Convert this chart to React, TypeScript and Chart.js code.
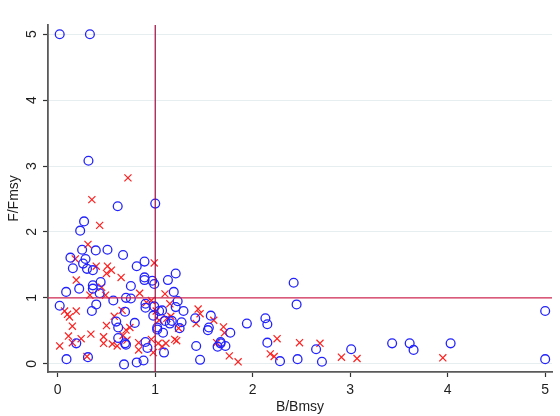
import React, { useEffect, useRef } from "react";
import { Chart, registerables } from "chart.js";

Chart.register(...registerables);

const blueX = [0.02, 0.33, 0.315, 0.615, 1.0, 0.27, 0.23, 0.25, 0.39, 0.51, 0.13, 0.285, 0.155, 0.26, 0.30, 0.36, 0.67, 0.81, 0.89, 0.89, 0.89, 0.97, 0.99, 1.21, 1.13, 0.36, 0.36, 0.44, 0.43, 0.086, 0.22, 0.75, 1.19, 0.57, 0.70, 0.75, 1.23, 0.02, 0.395, 0.35, 0.69, 0.90, 0.90, 0.99, 0.98, 1.04, 1.07, 1.21, 1.29, 0.60, 0.62, 0.79, 1.10, 1.15, 1.17, 1.27, 1.02, 1.02, 1.25, 1.08, 0.62, 0.69, 0.70, 0.90, 0.92, 1.09, 0.19, 0.31, 0.09, 0.68, 0.81, 0.88, 1.41, 1.42, 1.46, 1.54, 1.55, 1.57, 1.64, 1.67, 1.67, 1.72, 1.77, 1.94, 2.13, 2.15, 2.15, 2.28, 2.42, 2.45, 2.46, 2.65, 2.71, 3.01, 3.43, 3.61, 3.65, 4.03, 5.0, 5.0];
const blueY = [5.0, 5.0, 3.08, 2.39, 2.43, 2.16, 2.02, 1.73, 1.72, 1.73, 1.61, 1.59, 1.45, 1.52, 1.44, 1.42, 1.65, 1.48, 1.55, 1.31, 1.27, 1.26, 1.21, 1.37, 1.27, 1.19, 1.14, 1.24, 1.07, 1.09, 1.14, 1.18, 1.09, 0.96, 1.0, 0.99, 0.95, 0.88, 0.90, 0.80, 0.79, 0.91, 0.85, 0.87, 0.73, 0.80, 0.81, 0.86, 0.80, 0.64, 0.55, 0.62, 0.65, 0.61, 0.65, 0.63, 0.55, 0.52, 0.54, 0.47, 0.39, 0.31, 0.29, 0.33, 0.24, 0.17, 0.31, 0.10, 0.07, -0.01, 0.02, 0.05, 0.69, 0.27, 0.06, 0.51, 0.55, 0.73, 0.26, 0.33, 0.31, 0.27, 0.47, 0.61, 0.69, 0.60, 0.32, 0.04, 1.23, 0.90, 0.07, 0.22, 0.03, 0.22, 0.31, 0.31, 0.21, 0.31, 0.80, 0.07];

const redX = [0.72, 0.35, 0.43, 0.31, 0.18, 0.395, 0.51, 0.55, 0.50, 0.65, 0.99, 0.19, 0.45, 0.33, 0.49, 0.84, 1.10, 1.15, 0.96, 0.91, 0.07, 0.10, 0.19, 0.12, 0.15, 0.11, 0.15, 0.24, 0.34, 0.02, 0.30, 0.50, 0.58, 0.66, 0.70, 0.67, 0.74, 0.47, 0.47, 0.56, 0.61, 0.71, 0.83, 0.83, 0.96, 0.98, 1.03, 1.04, 1.01, 1.12, 1.16, 1.11, 1.07, 1.20, 1.22, 1.24, 1.44, 1.46, 1.42, 1.60, 1.70, 1.71, 1.76, 1.85, 1.63, 2.18, 2.22, 2.25, 2.48, 2.69, 2.91, 3.07, 3.95];
const redY = [2.82, 2.49, 2.10, 1.81, 1.59, 1.48, 1.48, 1.42, 1.37, 1.31, 1.53, 1.27, 1.16, 1.04, 1.04, 1.07, 1.06, 0.91, 0.96, 0.93, 0.80, 0.75, 0.80, 0.71, 0.57, 0.42, 0.32, 0.38, 0.45, 0.27, 0.11, 0.58, 0.72, 0.81, 0.51, 0.43, 0.55, 0.41, 0.31, 0.30, 0.27, 0.36, 0.32, 0.21, 0.37, 0.17, 0.31, 0.66, 0.80, 0.69, 0.72, 0.31, 0.26, 0.37, 0.35, 0.54, 0.83, 0.76, 0.61, 0.66, 0.56, 0.47, 0.12, 0.03, 0.32, 0.15, 0.11, 0.38, 0.32, 0.31, 0.10, 0.08, 0.09];

const xTicks = [0, 1, 2, 3, 4, 5];
const yTicks = [0, 1, 2, 3, 4, 5];
const xRange = [-0.1, 5.07];
const yRange = [-0.125, 5.14];
const refX = 1;
const refY = 1;

const FONT = "Arial, 'Liberation Sans', Helvetica, sans-serif";
const TEXT = "#1e1e1e";

export default function App() {
  const ref = useRef<HTMLCanvasElement>(null);
  useEffect(() => {
    document.body.style.margin = "0";
    const ctx = ref.current!;
    const yLabelPlugin = {
      id: "yLabels",
      afterDraw(chart: any) {
        const s = chart.scales.y;
        const c = chart.ctx;
        c.save();
        c.font = `14px ${FONT}`;
        c.fillStyle = TEXT;
        c.textAlign = "center";
        c.textBaseline = "middle";
        for (const v of yTicks) {
          const py = s.getPixelForValue(v);
          c.save();
          c.translate(s.right - 16, py);
          c.rotate(-Math.PI / 2);
          c.fillText(String(v), 0, 0);
          c.restore();
        }
        c.restore();
      },
    };
    const chart = new Chart(ctx, {
      type: "scatter",
      data: {
        datasets: [
          {
            type: "line",
            data: [
              { x: refX, y: yRange[0] },
              { x: refX, y: yRange[1] },
            ],
            borderColor: "#a00a3c",
            borderWidth: 1.2,
            pointRadius: 0,
            fill: false,
          } as any,
          {
            type: "line",
            data: [
              { x: xRange[0], y: refY },
              { x: xRange[1], y: refY },
            ],
            borderColor: "#d42a55",
            borderWidth: 1.2,
            pointRadius: 0,
            fill: false,
          } as any,
          {
            data: blueX.map((x, i) => ({ x, y: blueY[i] })),
            pointStyle: "circle",
            pointRadius: 4.4,
            borderColor: "#2222ff",
            backgroundColor: "rgba(0,0,0,0)",
            borderWidth: 1.3,
          },
          {
            data: redX.map((x, i) => ({ x, y: redY[i] })),
            pointStyle: "crossRot",
            pointRadius: 5,
            borderColor: "#ff2020",
            backgroundColor: "#ff2020",
            borderWidth: 1.2,
          },
        ],
      },
      options: {
        animation: false,
        responsive: false,
        layout: { padding: { top: 25, right: 8, left: 0, bottom: 0 } },
        plugins: { legend: { display: false }, tooltip: { enabled: false } },
        scales: {
          x: {
            type: "linear",
            min: xRange[0],
            max: xRange[1],
            afterBuildTicks: (s: any) => {
              s.ticks = xTicks.map((v) => ({ value: v }));
            },
            afterFit: (s: any) => {
              s.height = 44;
            },
            grid: {
              drawOnChartArea: false,
              drawTicks: true,
              tickLength: 5,
              tickColor: "#333",
              tickWidth: 1.2,
            },
            border: { color: "#5a5a5a", width: 1.8 },
            ticks: {
              color: TEXT,
              font: { family: FONT, size: 14 },
              padding: 5,
              maxRotation: 0,
              minRotation: 0,
              callback: (v: any) => String(v),
            },
            title: {
              display: true,
              text: "B/Bmsy",
              color: TEXT,
              font: { family: FONT, size: 14 },
              padding: { top: 0, bottom: 0 },
            },
          },
          y: {
            type: "linear",
            min: yRange[0],
            max: yRange[1],
            afterBuildTicks: (s: any) => {
              s.ticks = yTicks.map((v) => ({ value: v }));
            },
            afterFit: (s: any) => {
              s.width = 48;
            },
            grid: {
              drawOnChartArea: true,
              color: "#e6eef0",
              lineWidth: 1,
              drawTicks: true,
              tickLength: 5,
              tickColor: "#333",
              tickWidth: 1.2,
            },
            border: { color: "#5a5a5a", width: 1.8 },
            ticks: { display: false },
            title: {
              display: true,
              text: "F/Fmsy",
              color: TEXT,
              font: { family: FONT, size: 14 },
              padding: { top: 6, bottom: 0 },
            },
          },
        },
      },
      plugins: [yLabelPlugin],
    });
    return () => chart.destroy();
  }, []);
  return (
    <div style={{ width: 560, height: 416 }}>
      <canvas ref={ref} width={560} height={416} style={{ display: "block" }} />
    </div>
  );
}
